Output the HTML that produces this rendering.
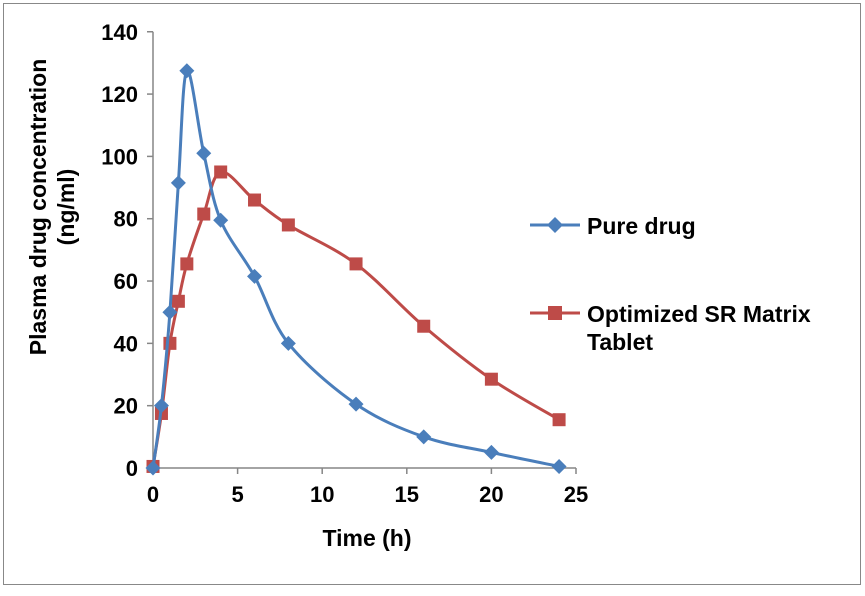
<!DOCTYPE html>
<html><head><meta charset="utf-8"><style>
body{margin:0;background:#fff;font-family:"Liberation Sans",Arial,sans-serif;}
svg text{font-family:"Liberation Sans",Arial,sans-serif;font-weight:bold;fill:#000;}
</style></head><body>
<svg id="chart" width="865" height="591" xmlns="http://www.w3.org/2000/svg">
<rect x="3.5" y="3.5" width="857" height="581" fill="#fff" stroke="#888" stroke-width="1"/>
<g id="axes"></g><g id="series"></g>
<text x="367" y="546" font-size="23" text-anchor="middle">Time (h)</text>
<text transform="translate(46,207) rotate(-90)" font-size="23" text-anchor="middle"><tspan x="0" dy="0">Plasma  drug concentration</tspan><tspan x="0" dy="28">(ng/ml)</tspan></text>
<g>
<line x1="530" y1="225" x2="580" y2="225" stroke="#4a7ebb" stroke-width="3"/>
<path d="M555 217 L563 225 L555 233 L547 225Z" fill="#4a7ebb"/>
<text x="587" y="234" font-size="23">Pure drug</text></g>
<g>
<line x1="530" y1="313" x2="580" y2="313" stroke="#be4b48" stroke-width="3"/>
<rect x="548" y="306" width="14" height="14" fill="#be4b48"/>
<text x="587" y="322" font-size="23">Optimized SR Matrix</text>
<text x="587" y="350" font-size="23">Tablet</text></g>
</svg>
<script>
const times=[0,0.5,1,1.5,2,3,4,6,8,12,16,20,24];
const pureDrug=[0,20,50,91.5,127.5,101,79.5,61.5,40,20.5,10,5,0.5];
const optimized=[0.5,17.5,40,53.5,65.5,81.5,95,86,78,65.5,45.5,28.5,15.5];
const xTicks=[0,5,10,15,20,25];
const yTicks=[0,20,40,60,80,100,120,140];
const NS="http://www.w3.org/2000/svg";
const X=v=>153+v*16.92, Y=v=>468-v*3.116;
function mk(t,a,p){const e=document.createElementNS(NS,t);for(const k in a)e.setAttribute(k,a[k]);p.appendChild(e);return e;}
const ax=document.getElementById('axes'), se=document.getElementById('series');
const yl=mk('line',{x1:153,y1:Y(140),x2:153,y2:468,stroke:'#868686','stroke-width':1.5},ax);


const xl=mk('line',{x1:153,y1:468,x2:X(25),y2:468,stroke:'#868686','stroke-width':1.5},ax);


yTicks.forEach(v=>{mk('line',{x1:147,y1:Y(v),x2:153,y2:Y(v),stroke:'#868686','stroke-width':1.5},ax);
const t=mk('text',{x:138,y:Y(v)+8,'font-size':22,'text-anchor':'end'},ax);t.textContent=v;

});
xTicks.forEach(v=>{mk('line',{x1:X(v),y1:468,x2:X(v),y2:474,stroke:'#868686','stroke-width':1.5},ax);
const t=mk('text',{x:X(v),y:502,'font-size':22,'text-anchor':'middle'},ax);t.textContent=v;

});
function smooth(p){let d=`M${p[0][0]},${p[0][1]}`;const k=1/6;
for(let i=0;i<p.length-1;i++){const p0=p[i-1]||p[i],p1=p[i],p2=p[i+1],p3=p[i+2]||p2;
d+=` C${p1[0]+(p2[0]-p0[0])*k},${p1[1]+(p2[1]-p0[1])*k} ${p2[0]-(p3[0]-p1[0])*k},${p2[1]-(p3[1]-p1[1])*k} ${p2[0]},${p2[1]}`;}return d;}
function series(vals,col,name,shape){const g=mk('g',{},se);


const pts=times.map((t,i)=>[X(t),Y(vals[i])]);
mk('path',{d:smooth(pts),fill:'none',stroke:col,'stroke-width':3},g);
pts.forEach(([x,y])=>{let m;
if(shape==='d')m=mk('path',{d:`M${x} ${y-7.5}L${x+7.5} ${y}L${x} ${y+7.5}L${x-7.5} ${y}Z`,fill:col},g);
else m=mk('rect',{x:x-6.5,y:y-6.5,width:13,height:13,fill:col},g);

});}
series(optimized,'#be4b48','optimized-sr-series','s');
series(pureDrug,'#4a7ebb','pure-drug-series','d');
</script>
</body></html>
